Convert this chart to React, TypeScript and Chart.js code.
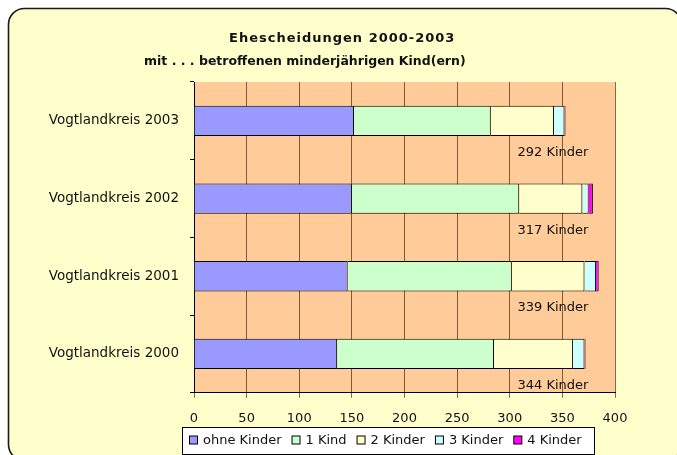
import React, { useEffect, useRef } from 'react';
import { Chart, registerables } from 'chart.js';

Chart.register(...registerables);

const categories = ['Vogtlandkreis 2003', 'Vogtlandkreis 2002', 'Vogtlandkreis 2001', 'Vogtlandkreis 2000'];
const seriesNames = ['ohne Kinder', '1 Kind', '2 Kinder', '3 Kinder', '4 Kinder'];
const ohneKinder = [152, 150, 146, 136];
const einKind = [130, 159, 156, 149];
const zweiKinder = [60, 60, 69, 75];
const dreiKinder = [10, 6, 11, 11];
const vierKinder = [1, 4, 2.5, 1];
const kinderLabels = ['292 Kinder', '317 Kinder', '339 Kinder', '344 Kinder'];
const seriesColors = ['#9999FF', '#CCFFCC', '#FFFFCC', '#CCFFFF', '#FF00FF'];
const titleLines = ['Ehescheidungen 2000-2003', 'mit . . . betroffenen minderjährigen Kind(ern)'];
const xMin = 0;
const xMax = 400;
const xStep = 50;

const FONT = '"DejaVu Sans", Verdana, sans-serif';
const W = 677;
const H = 455;

const backgroundPlugin = {
  id: 'bgPlugin',
  beforeDraw(chart: any) {
    const { ctx, chartArea } = chart;
    ctx.save();
    ctx.beginPath();
    (ctx as any).roundRect(8.5, 8.5, 673, 452, 16);
    ctx.fillStyle = '#FFFFCC';
    ctx.fill();
    ctx.lineWidth = 1.6;
    ctx.strokeStyle = '#1a1a1a';
    ctx.stroke();
    ctx.fillStyle = '#FFCC99';
    ctx.fillRect(chartArea.left, chartArea.top, chartArea.right - chartArea.left, chartArea.bottom - chartArea.top);
    ctx.restore();
  },
};

const labelPlugin = {
  id: 'kinderLabels',
  afterDatasetsDraw(chart: any) {
    const { ctx } = chart;
    const x = chart.scales.x;
    const y = chart.scales.y;
    const band = y.getPixelForValue(1) - y.getPixelForValue(0);
    ctx.save();
    ctx.font = `13px ${FONT}`;
    ctx.fillStyle = '#111';
    ctx.textAlign = 'center';
    ctx.textBaseline = 'middle';
    kinderLabels.forEach((t, i) => {
      ctx.fillText(t, x.getPixelForValue(341), y.getPixelForValue(i) + band * 0.41);
    });
    ctx.restore();
  },
};

const titleLegendPlugin = {
  id: 'titleLegend',
  afterDraw(chart: any) {
    const { ctx } = chart;
    ctx.save();
    ctx.fillStyle = '#111';
    ctx.textBaseline = 'alphabetic';
    ctx.textAlign = 'left';
    ctx.font = `bold 13px ${FONT}`;
    (ctx as any).letterSpacing = '1px';
    ctx.fillText(titleLines[0], 229, 42);
    ctx.font = `bold 12.5px ${FONT}`;
    (ctx as any).letterSpacing = '0px';
    ctx.fillText(titleLines[1], 144, 64.5);

    const boxLeft = 182;
    const boxTop = 427;
    const boxRight = 594;
    const boxBottom = 454;
    ctx.fillStyle = '#FFFFFF';
    ctx.fillRect(boxLeft, boxTop, boxRight - boxLeft, boxBottom - boxTop);
    ctx.lineWidth = 1;
    ctx.strokeStyle = '#000';
    ctx.strokeRect(boxLeft + 0.5, boxTop + 0.5, boxRight - boxLeft, boxBottom - boxTop);
    ctx.font = `13px ${FONT}`;
    ctx.textBaseline = 'middle';
    const cy = 440.5;
    let xPos = 189;
    chart.data.datasets.forEach((ds: any) => {
      ctx.fillStyle = ds.backgroundColor;
      ctx.fillRect(xPos + 0.5, cy - 4.5, 8, 8);
      ctx.strokeStyle = '#000';
      ctx.strokeRect(xPos + 0.5, cy - 4.5, 8, 8);
      xPos += 14;
      ctx.fillStyle = '#111';
      ctx.fillText(ds.label, xPos, cy);
      xPos += ctx.measureText(ds.label).width + 10;
    });
    ctx.restore();
  },
};

export default function App() {
  const ref = useRef<HTMLCanvasElement>(null);
  useEffect(() => {
    const seriesValues = [ohneKinder, einKind, zweiKinder, dreiKinder, vierKinder];
    const chart = new Chart(ref.current as HTMLCanvasElement, {
      type: 'bar',
      data: {
        labels: categories,
        datasets: seriesNames.map((name, i) => ({
          label: name,
          data: seriesValues[i],
          backgroundColor: seriesColors[i],
          borderColor: '#000',
          borderWidth: 1,
          borderSkipped: 'start',
          barPercentage: 0.39,
          categoryPercentage: 1,
        })),
      },
      options: {
        indexAxis: 'y',
        responsive: false,
        animation: false,
        devicePixelRatio: 1,
        layout: { padding: { top: 82, right: 62, bottom: 15, left: 0 } },
        plugins: {
          legend: { display: false },
          title: { display: false },
          tooltip: { enabled: false },
        },
        scales: {
          x: {
            stacked: true,
            min: xMin,
            max: xMax,
            ticks: { stepSize: xStep, color: '#111', font: { family: FONT, size: 13 }, padding: 13.3 },
            grid: { color: 'rgba(60,30,0,0.65)', tickLength: 5, drawTicks: true },
            border: { display: true, color: '#000', width: 1 },
          },
          y: {
            stacked: true,
            ticks: { color: '#111', font: { family: FONT, size: 13.5 }, padding: 11 },
            grid: { drawOnChartArea: false, drawTicks: true, tickLength: 4, color: '#000', offset: true },
            border: { display: true, color: '#000', width: 1 },
            afterFit: (scale: any) => {
              scale.width = 194;
            },
          },
        },
      },
      plugins: [backgroundPlugin, labelPlugin, titleLegendPlugin],
    } as any);
    return () => chart.destroy();
  }, []);
  return (
    <canvas
      ref={ref}
      width={W}
      height={H}
      style={{ position: 'absolute', left: 0, top: 0, display: 'block', width: W, height: H }}
    />
  );
}
